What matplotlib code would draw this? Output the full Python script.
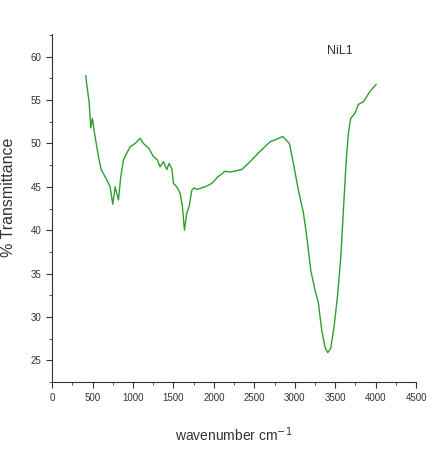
import matplotlib.pyplot as plt
from matplotlib.ticker import MultipleLocator

plt.rcParams['font.family'] = ['Liberation Sans', 'DejaVu Sans']

# FTIR spectrum of NiL1
wavenumber = [416, 428, 457, 478, 498, 531, 573, 606, 676, 717, 750, 779, 820, 849,
              882, 923, 964, 1026, 1088, 1129, 1191, 1252, 1302, 1335, 1376, 1418,
              1446, 1480, 1500, 1541, 1582, 1611, 1636, 1665, 1693, 1727, 1755, 1788,
              1891, 1974, 2056, 2139, 2200, 2345, 2447, 2550, 2695, 2777, 2851, 2933,
              2983, 3045, 3107, 3148, 3197, 3251, 3292, 3333, 3374, 3408, 3445, 3486,
              3527, 3569, 3601, 3634, 3663, 3692, 3745, 3786, 3848, 3930, 4005]
transmittance = [57.8, 56.8, 54.8, 51.8, 52.9, 50.8, 48.5, 47.0, 45.8, 45.0, 43.0, 45.0,
                 43.5, 46.2, 48.1, 48.9, 49.6, 50.0, 50.6, 50.0, 49.5, 48.5, 48.1, 47.3,
                 47.9, 47.0, 47.7, 47.1, 45.4, 45.0, 44.3, 42.7, 40.0, 42.0, 42.7, 44.6,
                 44.9, 44.7, 45.0, 45.4, 46.2, 46.8, 46.7, 47.0, 47.9, 48.9, 50.2, 50.5,
                 50.8, 50.0, 47.7, 44.6, 42.0, 39.3, 35.4, 33.1, 31.6, 28.5, 26.5, 25.9,
                 26.4, 28.9, 32.3, 36.9, 42.3, 47.7, 51.2, 52.9, 53.5, 54.5, 54.8, 56.0,
                 56.8]

fig = plt.figure(figsize=(4.38, 4.49), dpi=100)
ax = fig.add_axes([0.119, 0.149, 0.831, 0.775])
ax.plot(wavenumber, transmittance, color='#2e9e2e', linewidth=1)

ax.set_xlim(0, 4500)
ax.set_ylim(22.5, 62.6)
ax.xaxis.set_major_locator(MultipleLocator(500))
ax.xaxis.set_minor_locator(MultipleLocator(250))
ax.yaxis.set_major_locator(MultipleLocator(5))
ax.yaxis.set_minor_locator(MultipleLocator(2.5))
ax.set_yticks([25, 30, 35, 40, 45, 50, 55, 60])

for side in ['top', 'right']:
    ax.spines[side].set_visible(False)
for side in ['left', 'bottom']:
    ax.spines[side].set_color('#333333')
ax.tick_params(which='both', direction='out', colors='#333333', labelsize=7)
ax.tick_params(which='major', length=4)
ax.tick_params(which='minor', length=2.5)

ax.set_xlabel('wavenumber cm$^{-1}$', fontsize=10, color='#333333')
ax.xaxis.set_label_coords(0.5, -0.125)
ax.set_ylabel('% Transmittance', fontsize=11.5, color='#333333')
ax.yaxis.set_label_coords(-0.1, 0.53)
ax.text(3560, 60.6, 'NiL1', fontsize=9, color='#333333', ha='center', va='center')

fig.savefig('out.png', dpi=100)
